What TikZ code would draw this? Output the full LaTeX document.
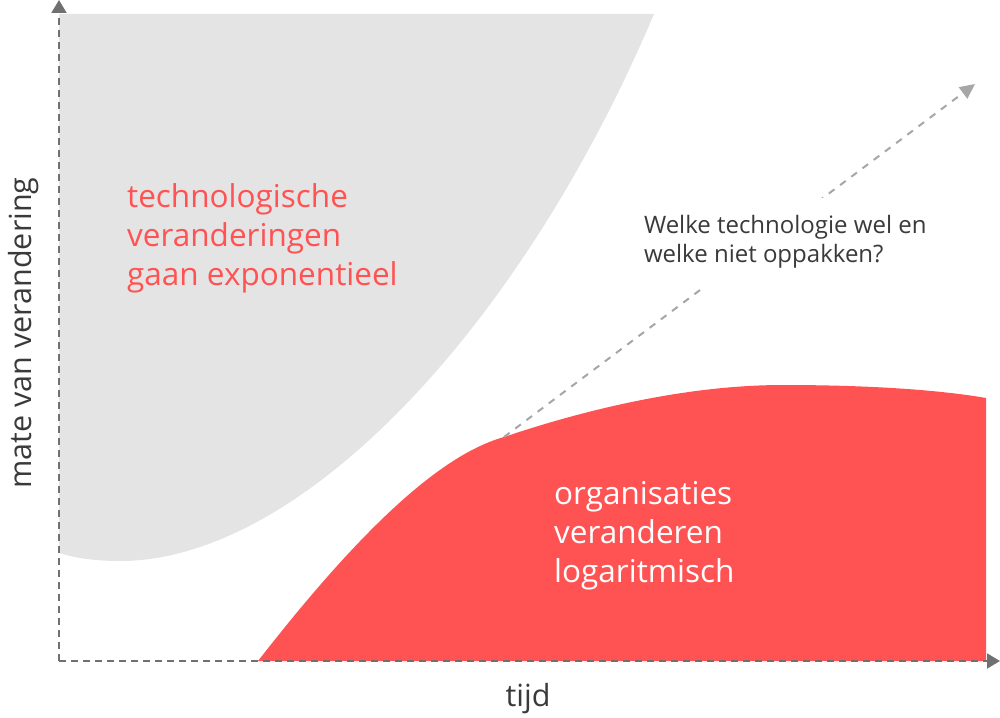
\documentclass[tikz,border=0pt]{standalone}
\usepackage{fontspec}
\setmainfont{Open Sans}
\usetikzlibrary{arrows.meta}
\definecolor{redfill}{HTML}{FF5252}
\definecolor{grayfill}{HTML}{E4E4E4}
\definecolor{axisgray}{HTML}{707070}
\definecolor{arrowgray}{HTML}{A6A6A6}
\definecolor{darktext}{HTML}{3A3A3A}
\tikzset{
  axisline/.style={draw=axisgray, line width=2pt, dash pattern=on 7pt off 5pt, -{Triangle[length=13pt,width=15pt]}},
  questionline/.style={draw=arrowgray, line width=2pt, dash pattern=on 7pt off 7pt, -{Triangle[length=15pt,width=14pt]}},
  bigred/.style={inner sep=0pt, anchor=base west, align=left, text=redfill, font=\fontsize{31.5}{39}\selectfont},
  bigwhite/.style={inner sep=0pt, anchor=base west, align=left, text=white, font=\fontsize{31.5}{39}\selectfont},
  question/.style={inner sep=0pt, outer sep=0pt, anchor=base west, align=left, text=darktext, font=\fontsize{24}{29}\selectfont},
  axislabel/.style={inner sep=0pt, text=darktext, font=\fontsize{30.5}{36}\selectfont}
}
\begin{document}
\begin{tikzpicture}[x=1pt,y=-1pt]
\useasboundingbox (0,0) rectangle (1000,717);
% grey region
\fill[grayfill] (59,14) -- (654,14) .. controls (520,330) and (300,561) .. (120,561)
  .. controls (95,561) and (75,558) .. (59,553) -- cycle;
% red region
\fill[redfill] (258,661) .. controls (360,530) and (440,455) .. (504,437)
  .. controls (590,408) and (690,385) .. (783,385)
  .. controls (870,385) and (940,390) .. (986,398) -- (986,661) -- cycle;
% coordinates
\coordinate (origin) at (59,661);
\coordinate (ytop) at (59,0);
\coordinate (xend) at (1000,661);
\coordinate (qstart) at (504,437);
\coordinate (qend) at (975,84);
% axes
\draw[axisline] (origin) -- (ytop);
\draw[axisline] (origin) -- (xend);
% question arrow
\draw[questionline] (qstart) -- (qend);
% texts
\node[bigred] (tech) at (127,285) {technologische\\veranderingen\\gaan exponentieel};
\node[bigwhite] (org) at (554,582) {organisaties\\veranderen\\logaritmisch};
\fill[white] (626,198) rectangle (940,288);
\node[question] (q) at (644,262) {Welke technologie wel en\\welke niet oppakken?};
\node[axislabel, anchor=base] (ylab) at (31,333) [rotate=90] {mate van verandering};
\node[axislabel, anchor=base] (xlab) at (528,706) {tijd};
\end{tikzpicture}
\end{document}
